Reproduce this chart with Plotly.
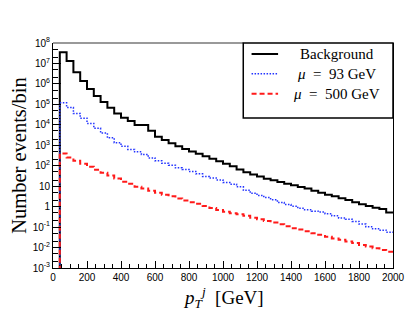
import plotly.graph_objects as go

# bin lower edges (GeV), 40 GeV bins
bin_edges = [40, 80, 120, 160, 200, 240, 280, 320, 360, 400, 440, 480, 520, 560, 600,
             640, 680, 720, 760, 800, 840, 880, 920, 960, 1000, 1040, 1080, 1120, 1160,
             1200, 1240, 1280, 1320, 1360, 1400, 1440, 1480, 1520, 1560, 1600, 1640, 1680,
             1720, 1760, 1800, 1840, 1880, 1920, 1960, 2000]

background = [3.5e7, 1.3e7, 3.7e6, 1.4e6, 5.6e5, 2.6e5, 1.3e5, 6.9e4, 3.6e4, 2.2e4,
              1.55e4, 9.8e3, 9.8e3, 5.1e3, 2.6e3, 1.8e3, 1.26e3, 890, 660, 500,
              380, 290, 220, 165, 126, 93, 66, 48, 37, 30,
              23, 19.5, 16, 13, 11, 9.1, 7.6, 6.0, 4.8, 3.8,
              3.2, 2.6, 2.1, 1.66, 1.32, 1.07, 0.89, 0.76, 0.52]

mu93 = [1.2e5, 7.1e4, 3.6e4, 2.1e4, 1.17e4, 6.8e3, 4.0e3, 2.3e3, 1.32e3, 890,
        630, 480, 355, 240, 174, 132, 107, 79, 66, 52,
        40, 30, 25, 20, 15, 12.6, 9.3, 6.3, 4.5, 3.5,
        2.8, 2.2, 1.6, 1.26, 1.05, 0.83, 0.71, 0.60, 0.54, 0.45,
        0.355, 0.28, 0.24, 0.19, 0.14, 0.105, 0.083, 0.071, 0.056]

mu500 = [400, 250, 174, 126, 89, 63, 45, 33, 24, 16.6,
         13.2, 9.5, 7.6, 6.0, 4.8, 3.8, 3.2, 2.5, 2.0, 1.66,
         1.38, 1.07, 0.85, 0.69, 0.56, 0.48, 0.42, 0.355, 0.29, 0.24,
         0.20, 0.166, 0.138, 0.11, 0.089, 0.076, 0.063, 0.050, 0.042, 0.034,
         0.028, 0.024, 0.020, 0.0166, 0.0135, 0.0112, 0.0093, 0.0076, 0.0063]

series_names = ["Background", "<i>\u03bc</i>\u2002=\u200293 GeV", "<i>\u03bc</i>\u2002=\u2002500 GeV"]
y_tickvals = [1e-3, 1e-2, 1e-1, 1, 10, 1e2, 1e3, 1e4, 1e5, 1e6, 1e7, 1e8]
y_ticktext = ["10<sup>-3</sup>", "10<sup>-2</sup>", "10<sup>-1</sup>", "1", "10",
              "10<sup>2</sup>", "10<sup>3</sup>", "10<sup>4</sup>", "10<sup>5</sup>",
              "10<sup>6</sup>", "10<sup>7</sup>", "10<sup>8</sup>"]
x_tickvals = [0, 200, 400, 600, 800, 1000, 1200, 1400, 1600, 1800, 2000]


def step_xy(vals):
    xs = [bin_edges[0]] + bin_edges
    ys = [1e-9] + list(vals) + [vals[-1]]
    return xs, ys


fig = go.Figure()
styles = [
    dict(color="black", width=2, dash="solid"),
    dict(color="#2233ff", width=1.5, dash="1.5px,1.5px"),
    dict(color="#ff1a1a", width=2, dash="5px,3px"),
]
for name, vals, st in zip(series_names, [background, mu93, mu500], styles):
    xs, ys = step_xy(vals)
    fig.add_trace(go.Scatter(x=xs, y=ys, mode="lines", name=name, showlegend=False,
                             line=dict(shape="hv", **st)))

# page body has an 8px margin, so the figure is 8px smaller and offset
fig.update_layout(
    width=407, height=304,
    margin=dict(l=45, r=22, t=35, b=44, autoexpand=False),
    plot_bgcolor="white", paper_bgcolor="white",
    showlegend=False,
    xaxis=dict(range=[0, 2000], tickvals=x_tickvals, ticks="inside", ticklen=7,
               tickcolor="black", showline=True, linecolor="black", linewidth=1,
               showgrid=False, zeroline=False, automargin=False,
               minor=dict(dtick=50, ticks="inside", ticklen=4, tickcolor="black"),
               tickfont=dict(family="Liberation Sans", size=10, color="black")),
    yaxis=dict(type="log", range=[-3, 8], tickvals=y_tickvals, ticktext=y_ticktext,
               ticks="inside", ticklen=8, tickcolor="black",
               showline=True, linecolor="black", linewidth=1, mirror=True,
               showgrid=False, zeroline=False, automargin=False,
               minor=dict(ticks="inside", ticklen=5, tickcolor="black", showgrid=False),
               tickfont=dict(family="Liberation Sans", size=10, color="black")),
)

# axis titles
fig.add_annotation(text="<i>p</i><sub><i>T</i></sub><sup><i>j</i></sup>  [GeV]",
                   xref="paper", yref="paper", x=0.5, y=-0.13, xanchor="center",
                   yanchor="middle", showarrow=False,
                   font=dict(family="Liberation Serif", size=19, color="black"))
fig.add_annotation(text="Number events/bin", textangle=-90,
                   xref="paper", yref="paper", x=-0.102, y=0.5, xanchor="center",
                   yanchor="middle", showarrow=False,
                   font=dict(family="Liberation Serif", size=20.5, color="black"))

# top frame (grey)
fig.add_shape(type="line", xref="paper", yref="paper", x0=0, x1=0.56, y0=1, y1=1,
              line=dict(color="#999999", width=2))

# legend box
fig.add_shape(type="rect", xref="paper", yref="paper", x0=0.5596, x1=1.0, y0=0.667, y1=1.0,
              line=dict(color="black", width=1.5), fillcolor="white")
leg_y = [0.951, 0.863, 0.775]
for name, st, ly in zip(series_names, styles, leg_y):
    fig.add_shape(type="line", xref="paper", yref="paper", x0=0.584, x1=0.662,
                  y0=ly, y1=ly, line=dict(color=st["color"], width=st["width"],
                                          dash=st["dash"]))
    fig.add_annotation(text=name, xref="paper", yref="paper", x=0.835, y=ly,
                       xanchor="center", yanchor="middle", showarrow=False,
                       font=dict(family="Liberation Serif", size=15, color="black"))

fig.write_html("out.html")
